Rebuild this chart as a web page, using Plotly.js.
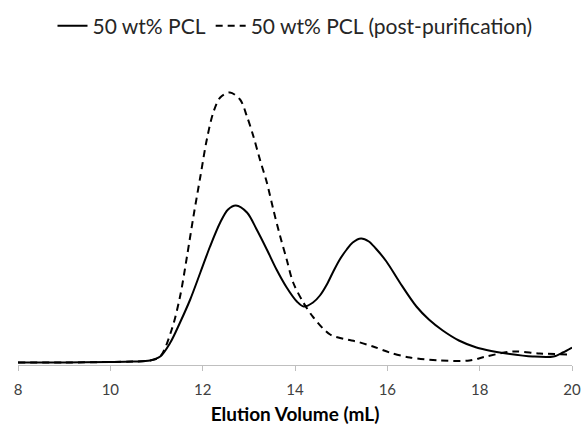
<!DOCTYPE html>
<html>
<head>
<meta charset="utf-8">
<script src="https://cdn.plot.ly/plotly-3.0.1.min.js"></script>
<style>html,body{margin:0;padding:0;background:#fff;}#chart{width:584px;height:425px;}</style>
</head>
<body>
<div id="chart"></div>
<script>
// Elution volume (mL) and detector response (arbitrary units)
const solidName = "50 wt% PCL";
const solidX = [8, 9, 10, 10.5, 10.86, 11.08, 11.3, 11.51, 11.73, 11.95, 12.16, 12.38, 12.55, 12.72, 12.96, 13.17, 13.39, 13.6, 13.82, 14.04, 14.19, 14.39, 14.54, 14.69, 14.83, 14.97, 15.12, 15.25, 15.43, 15.6, 15.75, 15.98, 16.27, 16.63, 16.9, 17.2, 17.55, 17.93, 18.25, 18.58, 19.15, 19.6, 19.8, 20];
const solidY = [1, 1, 1.5, 2, 3, 7, 21, 41, 64, 91, 117, 141, 154, 158, 151, 134, 114, 94, 76, 62, 57, 61, 68, 79, 92, 104, 114, 121, 125, 122, 115, 102, 81, 57, 44, 33, 23, 16, 12.5, 10, 7, 7, 11, 16];

const dashName = "50 wt% PCL (post-purification)";
const dashX = [8, 9, 10, 10.5, 10.86, 11.08, 11.33, 11.51, 11.66, 11.8, 11.95, 12.09, 12.23, 12.38, 12.59, 12.81, 12.96, 13.1, 13.24, 13.39, 13.53, 13.68, 13.82, 13.96, 14.18, 14.4, 14.76, 15.12, 15.33, 15.69, 16.05, 16.49, 17.13, 17.78, 18.14, 18.72, 19.3, 20];
const dashY = [1, 1, 1.5, 2, 3, 7, 34, 67, 107, 147, 187, 224, 251, 266, 271, 264, 247, 227, 204, 181, 154, 127, 104, 81, 61, 46, 29, 24, 22, 17, 11, 6, 3, 3, 7, 12, 10, 9];

const xTicks = [8, 10, 12, 14, 16, 18, 20];
const xTitle = "Elution Volume (mL)";

const FONT = "Lato, 'Open Sans', sans-serif";

const traces = [
  {x: solidX, y: solidY, name: solidName, type: "scatter", mode: "lines",
   line: {color: "#000000", width: 2, shape: "spline", smoothing: 0.9}},
  {x: dashX, y: dashY, name: dashName, type: "scatter", mode: "lines",
   line: {color: "#000000", width: 2, dash: "7px,5px", shape: "spline", smoothing: 0.9}}
];

const layout = {
  width: 584, height: 425,
  margin: {l: 17.5, r: 11.5, t: 85, b: 60, pad: 0, autoexpand: false},
  paper_bgcolor: "#ffffff", plot_bgcolor: "#ffffff",
  font: {family: FONT, color: "#404040", size: 15},
  showlegend: true,
  legend: {orientation: "h", x: 0.5, xanchor: "center", y: 1.21, yanchor: "middle",
           font: {family: FONT, size: 21, color: "#262626"}, itemwidth: 30, tracegroupgap: 0,
           bgcolor: "rgba(0,0,0,0)"},
  xaxis: {range: [8, 20], tickvals: xTicks, ticktext: xTicks.map(String), automargin: true,
          showgrid: false, zeroline: false, showline: true, linecolor: "#bfbfbf", linewidth: 1,
          ticks: "outside", ticklen: 5, tickcolor: "#bfbfbf", tickwidth: 1, ticklabelstandoff: 6,
          tickfont: {family: FONT, size: 15, color: "#404040"},
          title: {text: "<b>" + xTitle + "</b>", font: {family: FONT, size: 19, color: "#000000"}, standoff: 13}},
  yaxis: {range: [-1.5, 278.5], visible: false, showgrid: false, zeroline: false}
};

Plotly.newPlot("chart", traces, layout, {displayModeBar: false, staticPlot: true});
</script>
</body>
</html>
